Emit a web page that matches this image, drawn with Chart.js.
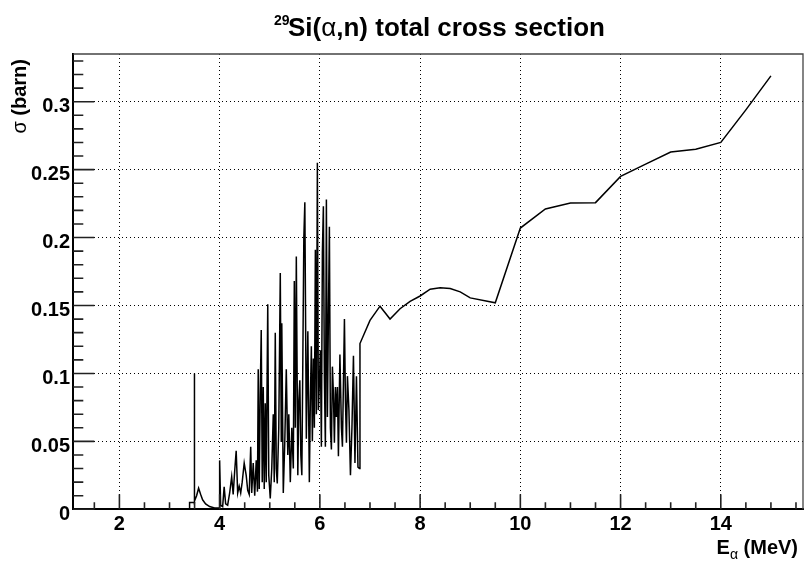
<!DOCTYPE html>
<html>
<head>
<meta charset="utf-8">
<script src="https://cdn.jsdelivr.net/npm/chart.js@4.4.1/dist/chart.umd.min.js"></script>
<style>
html,body{margin:0;padding:0;background:#fff;}
#wrap{width:804px;height:561px;}
</style>
</head>
<body>
<div id="wrap"><canvas id="c" width="804" height="561"></canvas></div>
<script>
// ---- data ----
const energies = [
 3.40,3.40,3.49,3.495,3.50,3.54,3.58,3.62,3.66,3.72,3.80,3.90,3.995,
 4.00,4.02,4.06,4.09,4.12,4.16,4.20,4.24,4.27,4.30,4.33,4.36,4.39,4.42,4.45,4.49,
 4.53,4.56,4.59,4.62,4.64,4.67,4.70,4.73,4.755,4.77,4.79,4.81,4.83,4.85,4.87,4.89,
 4.91,4.93,4.96,4.98,5.01,5.04,5.07,5.09,5.11,5.13,5.15,5.18,5.21,5.23,5.24,5.27,
 5.30,5.33,5.36,5.38,5.41,5.44,5.47,5.49,5.51,5.53,5.56,5.58,5.60,5.62,5.64,5.66,
 5.68,5.70,5.73,5.76,5.79,5.81,5.83,5.85,5.87,5.89,5.91,5.93,5.95,5.97,5.99,6.01,
 6.03,6.05,6.07,6.09,6.11,6.13,6.15,6.17,6.19,6.21,6.23,6.25,6.27,6.29,6.31,6.33,
 6.35,6.37,6.40,6.43,6.45,6.49,6.51,6.53,6.55,6.58,6.61,6.64,6.67,6.70,6.73,6.76,
 6.79,6.80,7.0,7.2,7.4,7.6,7.8,8.0,8.2,8.4,8.6,8.8,9.0,9.5,10.0,10.5,11.0,11.5,
 12.0,12.5,13.0,13.5,14.0,14.5,15.0
];
const sigma = [
 0,0.005,0.005,0.100,0.006,0.010,0.0155,0.011,0.007,0.004,0.002,0.001,0.001,
 0.036,0.003,0.002,0.0165,0.004,0.003,0.012,0.024,0.011,0.028,0.043,0.012,0.017,0.012,0.020,0.034,
 0.025,0.014,0.011,0.046,0.012,0.034,0.010,0.036,0.013,0.103,0.015,0.085,0.132,0.020,0.090,0.015,
 0.078,0.020,0.151,0.025,0.008,0.030,0.070,0.020,0.130,0.030,0.019,0.060,0.174,0.050,0.137,0.012,
 0.050,0.103,0.040,0.070,0.020,0.060,0.030,0.168,0.060,0.186,0.025,0.080,0.095,0.040,0.025,0.110,
 0.200,0.226,0.052,0.131,0.020,0.080,0.120,0.050,0.111,0.060,0.191,0.070,0.255,0.073,0.093,0.117,
 0.046,0.189,0.223,0.098,0.046,0.228,0.068,0.140,0.208,0.060,0.044,0.105,0.085,0.049,0.090,0.068,
 0.090,0.039,0.114,0.060,0.046,0.140,0.080,0.049,0.098,0.073,0.025,0.060,0.113,0.034,0.098,0.031,
 0.030,0.122,0.139,0.1495,0.140,0.1476,0.153,0.157,0.162,0.163,0.1625,0.160,0.1556,0.152,0.207,0.221,0.2255,0.2257,
 0.245,0.254,0.263,0.265,0.270,0.294,0.319
];
const xTickValues = [1.5,2,2.5,3,3.5,4,4.5,5,5.5,6,6.5,7,7.5,8,8.5,9,9.5,10,10.5,11,11.5,12,12.5,13,13.5,14,14.5,15,15.5];
const xTickLabels = ['2','4','6','8','10','12','14'];
const yTickValues = [0,0.01,0.02,0.03,0.04,0.05,0.06,0.07,0.08,0.09,0.1,0.11,0.12,0.13,0.14,0.15,0.16,0.17,0.18,0.19,0.2,0.21,0.22,0.23,0.24,0.25,0.26,0.27,0.28,0.29,0.3,0.31,0.32,0.33];
const yTickLabels = ['0','0.05','0.1','0.15','0.2','0.25','0.3'];
const titleSup = '29';
const titleMain = ['Si(', 'α', ',n) total cross section'];
const xTitle = ['E', 'α', ' (MeV)'];
const yTitle = ['σ', ' (barn)'];

const FONT = '"Liberation Sans", Arial, Helvetica, sans-serif';
const isMajorX = v => Math.abs(v/2 - Math.round(v/2)) < 1e-6;
const isMajorY = v => Math.round(v*100) % 5 === 0;

const points = energies.map((e,i)=>({x:e, y:sigma[i]}));

const innerTicks = {
  id:'innerTicks',
  afterDraw(chart){
    const {ctx, chartArea:a, scales:{x, y}} = chart;
    ctx.save();
    ctx.strokeStyle = '#222';
    ctx.lineWidth = 1.6;
    ctx.beginPath();
    x.ticks.forEach(t=>{
      const px = x.getPixelForValue(t.value);
      const len = isMajorX(t.value) ? 15 : 7;
      ctx.moveTo(px, a.bottom); ctx.lineTo(px, a.bottom - len);
    });
    y.ticks.forEach(t=>{
      const py = y.getPixelForValue(t.value);
      const len = isMajorY(t.value) ? 21 : 10;
      ctx.moveTo(a.left, py); ctx.lineTo(a.left + len, py);
    });
    ctx.stroke();
    // top and right frame
    ctx.strokeStyle = '#444';
    ctx.lineWidth = 1.3;
    ctx.beginPath();
    ctx.moveTo(a.left, a.top); ctx.lineTo(a.right, a.top); ctx.lineTo(a.right, a.bottom);
    ctx.stroke();
    ctx.restore();
  }
};

const titles = {
  id:'titles',
  afterDraw(chart){
    const ctx = chart.ctx;
    ctx.save();
    ctx.fillStyle = '#000';
    ctx.textBaseline = 'alphabetic';
    ctx.textAlign = 'left';
    // main title
    ctx.font = 'bold 14px ' + FONT;
    ctx.fillText(titleSup, 274, 25);
    let tx = 288;
    const fonts = ['bold 26px ' + FONT, '26px ' + FONT, 'bold 26px ' + FONT];
    titleMain.forEach((s,i)=>{ ctx.font = fonts[i]; ctx.fillText(s, tx, 36); tx += ctx.measureText(s).width; });
    // x title (right aligned at 798)
    const xf = ['bold 20px ' + FONT, '14px ' + FONT, 'bold 20px ' + FONT];
    const xdy = [0, 5, 0];
    let w = 0;
    xTitle.forEach((s,i)=>{ ctx.font = xf[i]; w += ctx.measureText(s).width; });
    let xx = 798 - w;
    xTitle.forEach((s,i)=>{ ctx.font = xf[i]; ctx.fillText(s, xx, 554 + xdy[i]); xx += ctx.measureText(s).width; });
    // y title
    ctx.translate(26, 59);
    ctx.rotate(-Math.PI/2);
    const yf = ['20px ' + FONT, 'bold 20px ' + FONT];
    let yw = 0;
    yTitle.forEach((s,i)=>{ ctx.font = yf[i]; yw += ctx.measureText(s).width; });
    let yy = -yw;
    yTitle.forEach((s,i)=>{ ctx.font = yf[i]; ctx.fillText(s, yy, 0); yy += ctx.measureText(s).width; });
    ctx.restore();
  }
};

new Chart(document.getElementById('c'), {
  type:'line',
  data:{ datasets:[{
    data: points,
    borderColor:'#000',
    borderWidth:1.5,
    pointRadius:0,
    tension:0,
    fill:false
  }]},
  options:{
    responsive:false,
    animation:false,
    devicePixelRatio:1,
    parsing:true,
    layout:{ padding:{ left:0, right:1, top:54, bottom:0 } },
    plugins:{ legend:{display:false}, title:{display:false}, tooltip:{enabled:false} },
    scales:{
      x:{
        type:'linear',
        min:1.08, max:15.64,
        afterBuildTicks(axis){ axis.ticks = xTickValues.map(v=>({value:v})); },
        afterFit(axis){ axis.height = 51.7; },
        ticks:{
          autoSkip:false, maxRotation:0, padding:3,
          color:'#000',
          font:{family:FONT, size:20, weight:'bold'},
          callback(v){ return isMajorX(v) ? xTickLabels[Math.round(v/2)-1] : ''; }
        },
        grid:{
          drawTicks:false,
          color:(c)=> (c.tick && isMajorX(c.tick.value)) ? '#000' : 'rgba(0,0,0,0)',
          lineWidth:1
        },
        border:{ display:true, color:'#000', width:2, dash:[1,3] }
      },
      y:{
        type:'linear',
        min:0, max:0.3351,
        afterBuildTicks(axis){ axis.ticks = yTickValues.map(v=>({value:v})); },
        afterFit(axis){ axis.width = 73.3; },
        ticks:{
          autoSkip:false, padding:3.3, labelOffset:5,
          color:'#000',
          font:{family:FONT, size:20, weight:'bold'},
          callback(v){ return isMajorY(v) ? yTickLabels[Math.round(v*20)] : ''; }
        },
        grid:{
          drawTicks:false,
          color:(c)=> (c.tick && isMajorY(c.tick.value) && c.tick.value > 0) ? '#000' : 'rgba(0,0,0,0)',
          lineWidth:1
        },
        border:{ display:true, color:'#000', width:2, dash:[1,3] }
      }
    }
  },
  plugins:[innerTicks, titles]
});
</script>
</body>
</html>
